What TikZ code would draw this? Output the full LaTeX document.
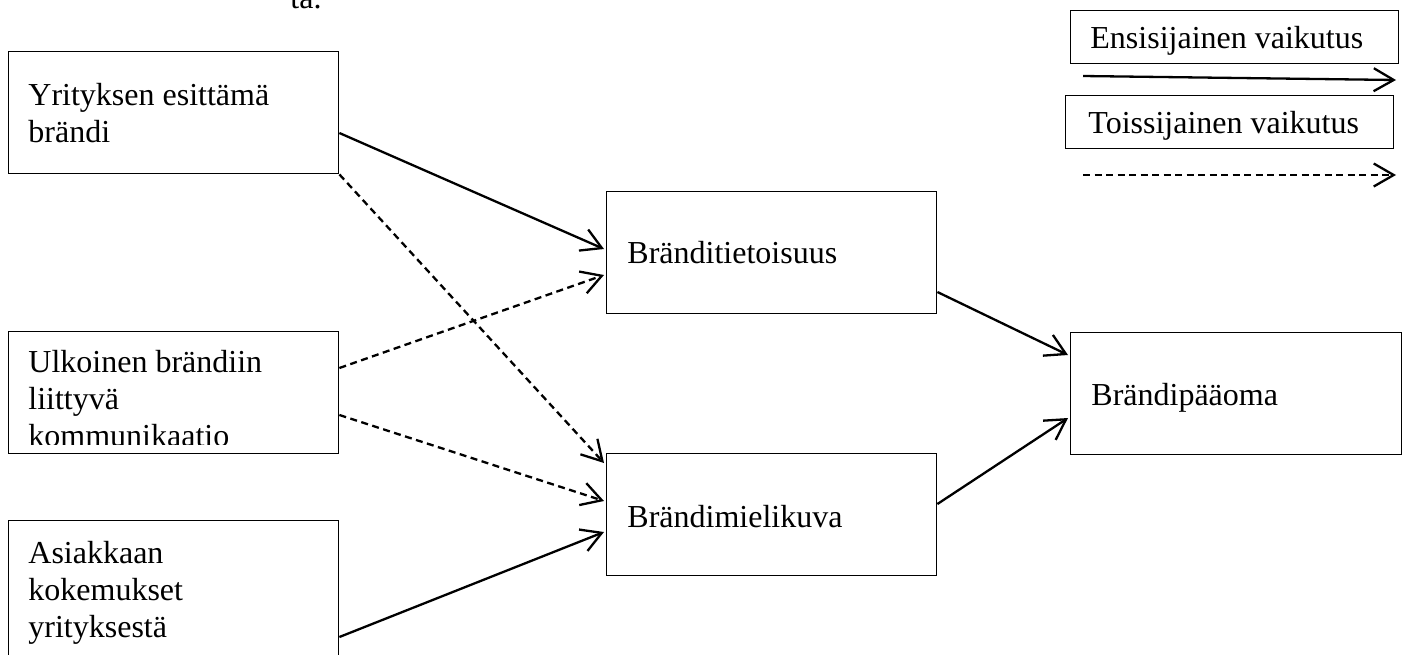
\documentclass[tikz,border=0pt]{standalone}
\usepackage{fontspec}
\setmainfont{Liberation Serif}
\usetikzlibrary{arrows.meta,calc}
\tikzset{
  box/.style={draw, line width=0.7pt, inner sep=0pt, anchor=north west,
    minimum width=165pt, minimum height=61pt},
  legendbox/.style={draw, line width=0.7pt, inner sep=0pt, anchor=north west,
    minimum width=164pt, minimum height=26.5pt},
  txt/.style={inner sep=0pt, anchor=base west, font=\fontsize{16pt}{18.5pt}\selectfont},
  txtblock/.style={inner sep=0pt, anchor=north west, align=left,
    font=\fontsize{16pt}{18.5pt}\selectfont},
  effect/.style={line width=1.15pt, -{Straight Barb[length=10pt,width=11.5pt]}},
  primary/.style={effect},
  secondary/.style={effect, dash pattern=on 3.5pt off 2.25pt},
}
\begin{document}
\begin{tikzpicture}[x=0.5pt,y=-0.5pt]
\useasboundingbox (0,0) rectangle (1408,654);
\clip (0,0) rectangle (1408,654);

% trailing words of the caption above
\node[txt] (cap) at (290,8) {ta.};

% source boxes
\node[box] (b1) at (8,51) {};
\node[txtblock] (t1) at (28,83) {Yrityksen esittämä\\brändi};

\node[box] (b2) at (8,331) {};
\begin{scope}
  \clip (b2.north west) rectangle ($(b2.south east)+(0,-10)$);
  \node[txtblock] (t2) at (28,350) {Ulkoinen brändiin\\liittyvä\\kommunikaatio};
\end{scope}

\node[box, minimum height=70pt] (b3) at (8,520) {};
\node[txtblock] (t3) at (28,541) {Asiakkaan\\kokemukset\\yrityksestä};

% middle boxes
\node[box] (bt) at (606,191) {};
\node[txt] (tt) at (627,263) {Bränditietoisuus};
\node[box] (bm) at (606,453) {};
\node[txt] (tm) at (627,527) {Brändimielikuva};

% result box
\node[box, minimum width=165.5pt] (bp) at (1070,332) {};
\node[txt] (tp) at (1091,405) {Brändipääoma};

% legend
\node[legendbox] (lg1) at (1070,10) {};
\node[txt] (lt1) at (1090,48) {Ensisijainen vaikutus};
\node[legendbox] (lg2) at (1065,95) {};
\node[txt] (lt2) at (1088,133) {Toissijainen vaikutus};
\coordinate (l1s) at (1083,76);
\coordinate (l1e) at (1396,80);
\coordinate (l2s) at (1083,175);
\coordinate (l2e) at (1396,175);
\draw[primary] (l1s) -- (l1e);
\draw[secondary] (l2s) -- (l2e);

% influences
\draw[primary]   ($(b1.north east)+(0,82)$)  -- ($(bt.north west)+(-2,58)$);
\draw[secondary] (b1.south east)             -- ($(bm.north west)+(-2,10)$);
\draw[secondary] ($(b2.north east)+(0,37)$)  -- ($(bt.north west)+(-2,84)$);
\draw[secondary] ($(b2.north east)+(0,84)$)  -- ($(bm.north west)+(-2,48)$);
\draw[primary]   ($(b3.north east)+(0,117)$) -- ($(bm.north west)+(-2,79)$);
\draw[primary]   ($(bt.north east)+(0,101)$) -- ($(bp.north west)+(-2,23)$);
\draw[primary]   ($(bm.north east)+(0,51)$)  -- ($(bp.north west)+(-2,86)$);
\end{tikzpicture}
\end{document}
